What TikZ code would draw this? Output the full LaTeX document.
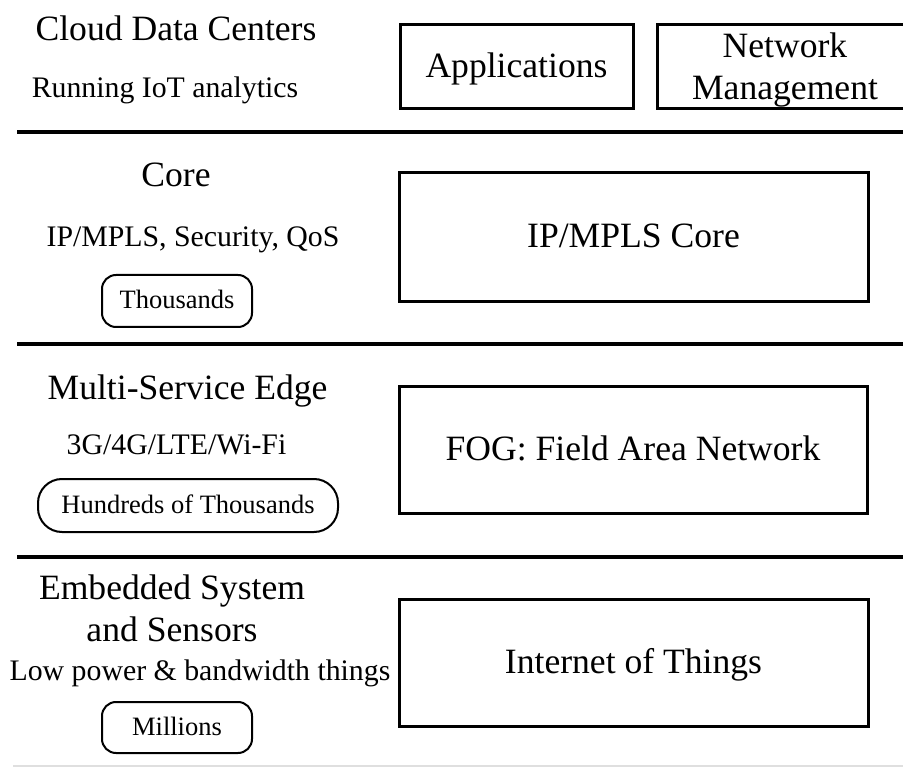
\documentclass[tikz,border=0pt]{standalone}
\usepackage{fontspec}
\setmainfont{Liberation Serif}
\newcommand\fbig{\fontsize{35.6}{42.7}\selectfont}
\newcommand\fmid{\fontsize{29.8}{35.8}\selectfont}
\newcommand\fsmall{\fontsize{26.5}{31.8}\selectfont}
\begin{document}
\begin{tikzpicture}[x=1pt,y=-1pt,
  title/.style={anchor=base,inner sep=0pt,font=\fbig},
  sub/.style={anchor=base,inner sep=0pt,font=\fmid},
  layerbox/.style={draw,line width=3pt,inner sep=0pt,font=\fbig,
    text height=21pt,text depth=0pt},
  countbox/.style={draw,line width=2pt,inner sep=0pt,font=\fsmall,
    text height=15.5pt,text depth=0pt},
  divider/.style={line width=3.5pt}]
\useasboundingbox (0,0) rectangle (903,767);
\clip (0,0) rectangle (903,767);

% layer dividers
\coordinate (d1a) at (17,132);  \coordinate (d1b) at (903,132);
\coordinate (d2a) at (17,344);  \coordinate (d2b) at (903,344);
\coordinate (d3a) at (17,557);  \coordinate (d3b) at (903,557);
\coordinate (d4a) at (13,766);  \coordinate (d4b) at (903,766);
\draw[divider] (d1a) -- (d1b);
\draw[divider] (d2a) -- (d2b);
\draw[divider] (d3a) -- (d3b);
\draw[line width=1.5pt,gray!25] (d4a) -- (d4b);

% cloud layer
\node[title] (cloud) at (176,41) {Cloud Data Centers};
\node[sub] (running) at (165,98) {Running IoT analytics};
\node[layerbox,minimum width=233pt,minimum height=84pt] (apps) at (516.5,67) {Applications};
\draw[line width=3pt] (657,25) rectangle (930,109);
\node[font=\fbig,align=center,inner sep=0pt] (netmgmt) at (785,70) {Network\\Management};

% core layer
\node[title] (core) at (176,187) {Core};
\node[sub] (coreprot) at (193,247) {IP/MPLS, Security, QoS};
\node[countbox,rounded corners=14pt,minimum width=150pt,minimum height=52pt] (thousands) at (177,301) {Thousands};
\node[layerbox,minimum width=469pt,minimum height=129pt] (corebox) at (633.5,237.5) {IP/MPLS Core};

% edge layer
\node[title] (edge) at (187.5,400) {Multi-Service Edge};
\node[sub] (radio) at (176.5,454) {3G/4G/LTE/Wi-Fi};
\node[countbox,rounded corners=24pt,minimum width=300pt,minimum height=53pt] (hundreds) at (188,505.5) {Hundreds of Thousands};
\node[layerbox,minimum width=468pt,minimum height=126pt] (fog) at (633,450) {FOG: Field Area Network};

% device layer
\node[title] (embedded) at (172,599) {Embedded System};
\node[title] (sensors) at (172,641) {and Sensors};
\node[sub] (lowpower) at (200,680) {Low power \& bandwidth things};
\node[countbox,rounded corners=14pt,minimum width=150pt,minimum height=51pt] (millions) at (177,727.5) {Millions};
\node[layerbox,minimum width=469pt,minimum height=127pt] (iot) at (633.5,662.5) {Internet of Things};
\end{tikzpicture}
\end{document}
